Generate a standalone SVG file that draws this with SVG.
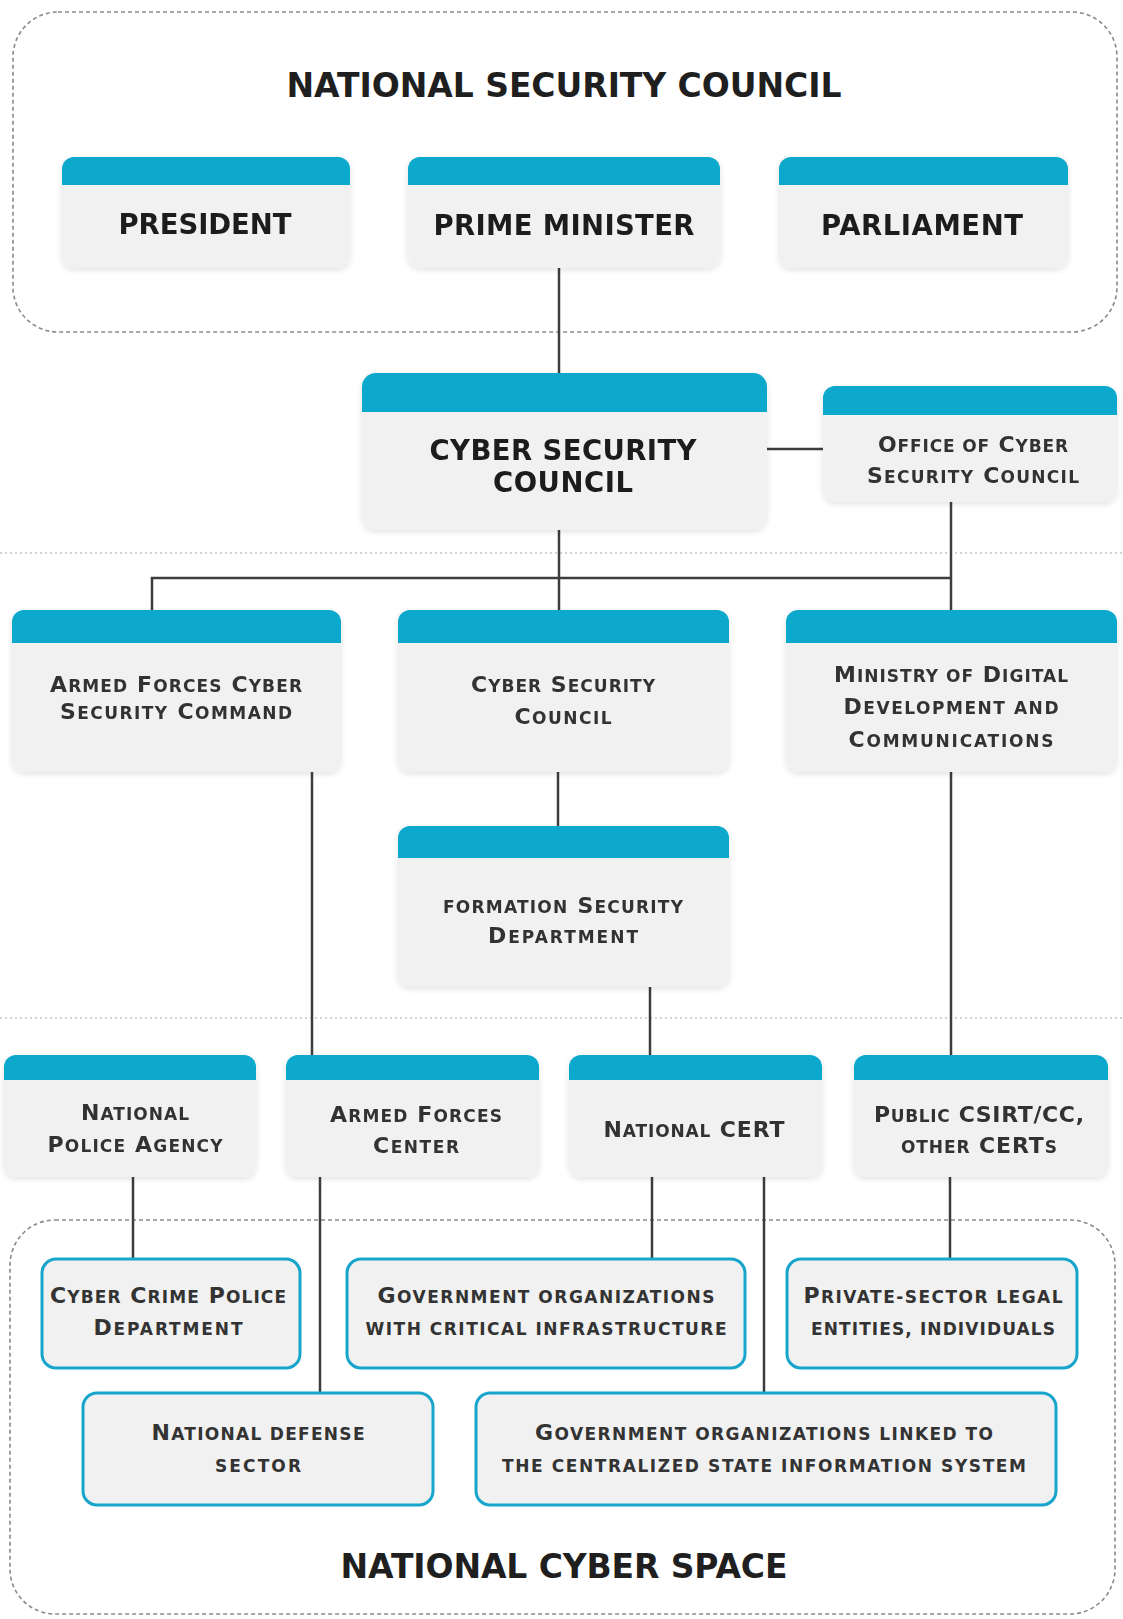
<svg xmlns="http://www.w3.org/2000/svg" width="1123" height="1619" viewBox="0 0 1123 1619">
<defs>
<filter id="sh" x="-10%" y="-10%" width="120%" height="130%">
<feGaussianBlur in="SourceAlpha" stdDeviation="3"/>
<feOffset dy="2"/>
<feComponentTransfer><feFuncA type="linear" slope="0.12"/></feComponentTransfer>
<feMerge><feMergeNode/><feMergeNode in="SourceGraphic"/></feMerge>
</filter>
</defs>
<style>
.bar{fill:#0aa9cd}
.body{fill:#f1f1f1}
.ob{fill:#f1f1f1;stroke:#17a5cb;stroke-width:3}
.t1{font-family:"DejaVu Sans",sans-serif;font-weight:bold;fill:#1f1f1f;text-anchor:middle}
.big{font-size:27.5px}
.ttl{font-size:33px}
.sc{font-family:"DejaVu Sans",sans-serif;font-weight:bold;font-size:22px;fill:#333;text-anchor:middle}
.s{font-size:17px}
.conn line{stroke:#3d3d3d;stroke-width:2.5}
.frame{fill:none;stroke:#8a8a8a;stroke-width:1.6;stroke-dasharray:4 3}
.sep{stroke:#d2d2d2;stroke-width:2;stroke-dasharray:2 3}
</style>
<rect width="1123" height="1619" fill="#ffffff"/>
<g id="separators">
<line class="sep" x1="0" y1="553" x2="1123" y2="553"/>
<line class="sep" x1="0" y1="1018" x2="1123" y2="1018"/>
</g>
<g id="national-security-council-frame">
<rect class="frame" x="13" y="12" width="1104" height="320" rx="45"/>
<text class="t1 ttl" x="564" y="97" textLength="555">NATIONAL SECURITY COUNCIL</text>
</g>
<g id="national-cyber-space-frame">
<rect class="frame" x="10" y="1220" width="1105" height="394" rx="45"/>
<text class="t1 ttl" x="564" y="1578" textLength="447">NATIONAL CYBER SPACE</text>
</g>
<g id="connectors" class="conn">
<line x1="559" y1="268" x2="559" y2="373"/>
<line x1="767" y1="449" x2="823" y2="449"/>
<line x1="559" y1="530" x2="559" y2="610"/>
<line x1="951" y1="502" x2="951" y2="610"/>
<line x1="151" y1="578" x2="952" y2="578"/>
<line x1="152" y1="577" x2="152" y2="610"/>
<line x1="312" y1="772" x2="312" y2="1055"/>
<line x1="558" y1="772" x2="558" y2="826"/>
<line x1="650" y1="987" x2="650" y2="1055"/>
<line x1="951" y1="772" x2="951" y2="1055"/>
<line x1="133" y1="1177" x2="133" y2="1259"/>
<line x1="320" y1="1177" x2="320" y2="1393"/>
<line x1="652" y1="1177" x2="652" y2="1259"/>
<line x1="764" y1="1177" x2="764" y2="1393"/>
<line x1="950" y1="1177" x2="950" y2="1259"/>
</g>
<g id="president" filter="url(#sh)">
<rect class="body" x="62" y="157" width="288" height="111" rx="12"/>
<path class="bar" d="M62,185V169A12,12 0 0 1 74,157H338A12,12 0 0 1 350,169V185Z"/>
<text class="t1 big" x="205" y="234" textLength="173">PRESIDENT</text>
</g>
<g id="prime-minister" filter="url(#sh)">
<rect class="body" x="408" y="157" width="312" height="111" rx="12"/>
<path class="bar" d="M408,185V169A12,12 0 0 1 420,157H708A12,12 0 0 1 720,169V185Z"/>
<text class="t1 big" x="564" y="235" textLength="261">PRIME MINISTER</text>
</g>
<g id="parliament" filter="url(#sh)">
<rect class="body" x="779" y="157" width="289" height="111" rx="12"/>
<path class="bar" d="M779,185V169A12,12 0 0 1 791,157H1056A12,12 0 0 1 1068,169V185Z"/>
<text class="t1 big" x="922" y="235" textLength="202">PARLIAMENT</text>
</g>
<g id="cyber-security-council" filter="url(#sh)">
<rect class="body" x="362" y="373" width="405" height="157" rx="14"/>
<path class="bar" d="M362,412V387A14,14 0 0 1 376,373H753A14,14 0 0 1 767,387V412Z"/>
<text class="t1 big" x="563" y="460" textLength="267">CYBER SECURITY</text>
<text class="t1 big" x="563" y="492" textLength="140">COUNCIL</text>
</g>
<g id="office-of-cyber-security-council" filter="url(#sh)">
<rect class="body" x="823" y="386" width="294" height="116" rx="12"/>
<path class="bar" d="M823,415V398A12,12 0 0 1 835,386H1105A12,12 0 0 1 1117,398V415Z"/>
<text class="sc" x="973" y="452" textLength="190">O<tspan class="s">FFICE OF</tspan> C<tspan class="s">YBER</tspan></text>
<text class="sc" x="973" y="483" textLength="212">S<tspan class="s">ECURITY</tspan> C<tspan class="s">OUNCIL</tspan></text>
</g>
<g id="armed-forces-cyber-security-command" filter="url(#sh)">
<rect class="body" x="12" y="610" width="329" height="162" rx="12"/>
<path class="bar" d="M12,643V622A12,12 0 0 1 24,610H329A12,12 0 0 1 341,622V643Z"/>
<text class="sc" x="176" y="692" textLength="252">A<tspan class="s">RMED</tspan> F<tspan class="s">ORCES</tspan> C<tspan class="s">YBER</tspan></text>
<text class="sc" x="176" y="719" textLength="232">S<tspan class="s">ECURITY</tspan> C<tspan class="s">OMMAND</tspan></text>
</g>
<g id="cyber-security-council-2" filter="url(#sh)">
<rect class="body" x="398" y="610" width="331" height="162" rx="12"/>
<path class="bar" d="M398,643V622A12,12 0 0 1 410,610H717A12,12 0 0 1 729,622V643Z"/>
<text class="sc" x="563" y="692" textLength="184">C<tspan class="s">YBER</tspan> S<tspan class="s">ECURITY</tspan></text>
<text class="sc" x="563" y="724" textLength="97">C<tspan class="s">OUNCIL</tspan></text>
</g>
<g id="ministry-of-digital-development" filter="url(#sh)">
<rect class="body" x="786" y="610" width="331" height="162" rx="12"/>
<path class="bar" d="M786,643V622A12,12 0 0 1 798,610H1105A12,12 0 0 1 1117,622V643Z"/>
<text class="sc" x="951" y="682" textLength="234">M<tspan class="s">INISTRY OF</tspan> D<tspan class="s">IGITAL</tspan></text>
<text class="sc" x="951" y="714" textLength="215">D<tspan class="s">EVELOPMENT AND</tspan></text>
<text class="sc" x="951" y="747" textLength="205">C<tspan class="s">OMMUNICATIONS</tspan></text>
</g>
<g id="formation-security-department" filter="url(#sh)">
<rect class="body" x="398" y="826" width="331" height="161" rx="12"/>
<path class="bar" d="M398,858V838A12,12 0 0 1 410,826H717A12,12 0 0 1 729,838V858Z"/>
<text class="sc" x="563" y="913" textLength="240"><tspan class="s">FORMATION</tspan> S<tspan class="s">ECURITY</tspan></text>
<text class="sc" x="563" y="943" textLength="150">D<tspan class="s">EPARTMENT</tspan></text>
</g>
<g id="national-police-agency" filter="url(#sh)">
<rect class="body" x="4" y="1055" width="252" height="122" rx="12"/>
<path class="bar" d="M4,1080V1067A12,12 0 0 1 16,1055H244A12,12 0 0 1 256,1067V1080Z"/>
<text class="sc" x="135" y="1120" textLength="108">N<tspan class="s">ATIONAL</tspan></text>
<text class="sc" x="135" y="1152" textLength="175">P<tspan class="s">OLICE</tspan> A<tspan class="s">GENCY</tspan></text>
</g>
<g id="armed-forces-center" filter="url(#sh)">
<rect class="body" x="286" y="1055" width="253" height="122" rx="12"/>
<path class="bar" d="M286,1080V1067A12,12 0 0 1 298,1055H527A12,12 0 0 1 539,1067V1080Z"/>
<text class="sc" x="416" y="1122" textLength="172">A<tspan class="s">RMED</tspan> F<tspan class="s">ORCES</tspan></text>
<text class="sc" x="416" y="1153" textLength="86">C<tspan class="s">ENTER</tspan></text>
</g>
<g id="national-cert" filter="url(#sh)">
<rect class="body" x="569" y="1055" width="253" height="122" rx="12"/>
<path class="bar" d="M569,1080V1067A12,12 0 0 1 581,1055H810A12,12 0 0 1 822,1067V1080Z"/>
<text class="sc" x="694" y="1137" textLength="181">N<tspan class="s">ATIONAL</tspan> CERT</text>
</g>
<g id="public-csirt" filter="url(#sh)">
<rect class="body" x="854" y="1055" width="254" height="122" rx="12"/>
<path class="bar" d="M854,1080V1067A12,12 0 0 1 866,1055H1096A12,12 0 0 1 1108,1067V1080Z"/>
<text class="sc" x="979" y="1122" textLength="210">P<tspan class="s">UBLIC</tspan> CSIRT/CC,</text>
<text class="sc" x="979" y="1153" textLength="156"><tspan class="s">OTHER</tspan> CERT<tspan class="s">S</tspan></text>
</g>
<g id="cyber-crime-police-department">
<rect class="ob" x="42" y="1259" width="258" height="109" rx="14"/>
<text class="sc" x="168" y="1303" textLength="236">C<tspan class="s">YBER</tspan> C<tspan class="s">RIME</tspan> P<tspan class="s">OLICE</tspan></text>
<text class="sc" x="168" y="1335" textLength="149">D<tspan class="s">EPARTMENT</tspan></text>
</g>
<g id="government-organizations-critical">
<rect class="ob" x="347" y="1259" width="398" height="109" rx="14"/>
<text class="sc" x="546" y="1303" textLength="337">G<tspan class="s">OVERNMENT ORGANIZATIONS</tspan></text>
<text class="sc" x="546" y="1335" textLength="361"><tspan class="s">WITH CRITICAL INFRASTRUCTURE</tspan></text>
</g>
<g id="private-sector">
<rect class="ob" x="787" y="1259" width="290" height="109" rx="14"/>
<text class="sc" x="933" y="1303" textLength="259">P<tspan class="s">RIVATE-SECTOR LEGAL</tspan></text>
<text class="sc" x="933" y="1335" textLength="244"><tspan class="s">ENTITIES, INDIVIDUALS</tspan></text>
</g>
<g id="national-defense-sector">
<rect class="ob" x="83" y="1393" width="350" height="112" rx="14"/>
<text class="sc" x="258" y="1440" textLength="213">N<tspan class="s">ATIONAL DEFENSE</tspan></text>
<text class="sc" x="258" y="1472" textLength="86"><tspan class="s">SECTOR</tspan></text>
</g>
<g id="government-organizations-linked">
<rect class="ob" x="476" y="1393" width="580" height="112" rx="14"/>
<text class="sc" x="764" y="1440" textLength="458">G<tspan class="s">OVERNMENT ORGANIZATIONS LINKED TO</tspan></text>
<text class="sc" x="764" y="1472" textLength="524"><tspan class="s">THE CENTRALIZED STATE INFORMATION SYSTEM</tspan></text>
</g>
</svg>
